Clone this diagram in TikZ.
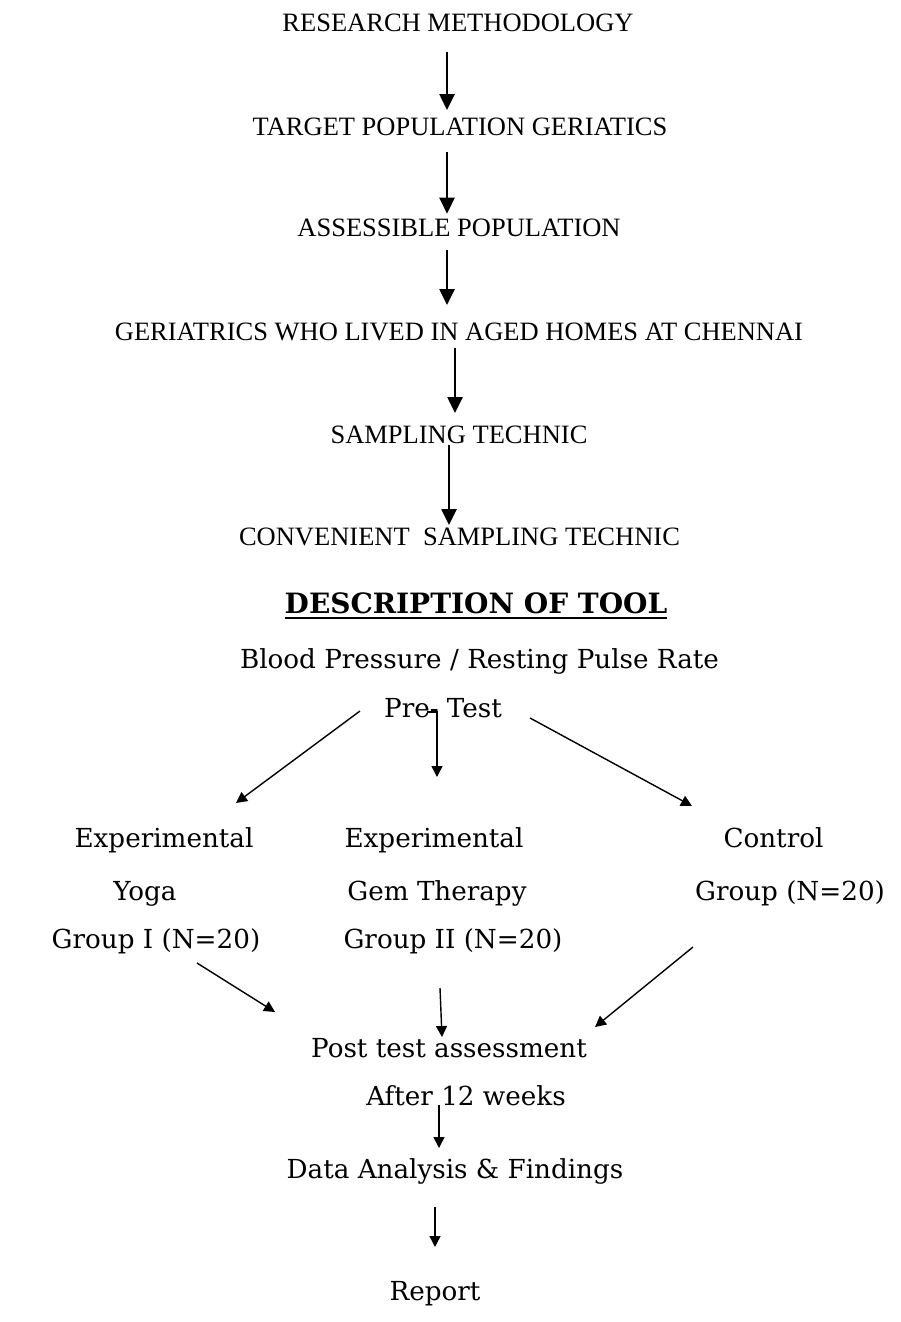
\documentclass[tikz,border=0pt]{standalone}
\usepackage{fontspec}
\setmainfont{Liberation Serif}
\newfontfamily\schfont{DejaVu Serif}
\usetikzlibrary{calc,arrows.meta}
\tikzset{
  % --- TEXT ---
  step-text/.style={
    font=\fontsize{26.5}{30}\selectfont,
    inner sep=0pt,
    anchor=base
  },
  tool-title/.style={
    font=\schfont\bfseries\fontsize{28}{31}\selectfont,
    inner sep=0pt,
    anchor=base
  },
  tool-text/.style={
    font=\schfont\fontsize{26.2}{29}\selectfont,
    inner sep=0pt,
    anchor=base
  },
  % --- ARROWS ---
  arrw/.style={
    line width=2.6pt,
    -{Triangle[width=15pt,length=16pt]}
  },
  thin-arrw/.style={
    line width=1.4pt,
    -{Triangle[width=11pt,length=11pt]}
  },
  uline/.style={line width=2.4pt},
}

\begin{document}
\begin{tikzpicture}[x=1pt,y=-1pt]
  \useasboundingbox (0,0) rectangle (901,1322);
  % --- method chain
  \node[step-text] (rm)   at (458,32)    {RESEARCH METHODOLOGY};
  \node[step-text] (tp)   at (460,135)   {TARGET POPULATION GERIATICS};
  \node[step-text] (asp)  at (459,236.7) {ASSESSIBLE POPULATION};
  \node[step-text] (ger)  at (459,340)   {GERIATRICS WHO LIVED IN AGED HOMES AT CHENNAI};
  \node[step-text] (samp) at (459,443)   {SAMPLING TECHNIC};
  \node[step-text] (conv) at (459.5,545) {CONVENIENT\ \ SAMPLING TECHNIC};
  \draw[arrw] ($(rm.base)+(-11,20)$)   -- ($(tp.base)+(-13,-25)$);
  \draw[arrw] ($(tp.base)+(-13,17)$)   -- ($(asp.base)+(-12,-23)$);
  \draw[arrw] ($(asp.base)+(-12,13)$)  -- ($(ger.base)+(-12,-35)$);
  \draw[arrw] ($(ger.base)+(-4,8)$)    -- ($(samp.base)+(-4,-30)$);
  \draw[arrw] ($(samp.base)+(-10,2)$)  -- ($(conv.base)+(-10.5,-20)$);
  % --- tool description
  \node[tool-title] (desc) at (476,613) {DESCRIPTION OF TOOL};
  \draw[uline] ([yshift=-5pt]desc.base west) -- ([yshift=-5pt]desc.base east);
  \node[tool-text] (bp)  at (479.5,668) {Blood Pressure / Resting Pulse Rate};
  \node[tool-text] (pre) at (443,717)   {Pre- Test};
  % --- groups
  \node[tool-text] (expL)    at (164,847)   {Experimental};
  \node[tool-text] (yoga)    at (145,900)   {Yoga};
  \node[tool-text] (grpI)    at (156,948)   {Group I (N=20)};
  \node[tool-text] (expM)    at (434,847)   {Experimental};
  \node[tool-text] (gem)     at (437,900)   {Gem Therapy};
  \node[tool-text] (grpII)   at (453,948)   {Group II (N=20)};
  \node[tool-text] (ctrl)    at (773.5,847) {Control};
  \node[tool-text] (ctrlgrp) at (790,900)   {Group (N=20)};
  \draw[thin-arrw] ($(pre.base)+(-83,-6)$) -- ($(expL.base)+(72,-44)$);
  \draw[thin-arrw] ($(pre.base)+(-16,-5)$) -| ($(expM.base)+(3,-70)$);
  \draw[thin-arrw] ($(pre.base)+(87,1)$)   -- ($(ctrl.base)+(-81.5,-41)$);
  % --- after test
  \node[tool-text] (post)  at (449,1057) {Post test assessment};
  \node[tool-text] (after) at (466,1105) {After 12 weeks};
  \node[tool-text] (data)  at (455,1178) {Data Analysis \& Findings};
  \node[tool-text] (rep)   at (435,1300) {Report};
  \draw[thin-arrw] ($(grpI.base)+(41,15)$)      -- ($(post.base)+(-174,-45)$);
  \draw[thin-arrw] ($(grpII.base)+(-13,40)$)    -- ($(post.base)+(-7,-20)$);
  \draw[thin-arrw] ($(ctrlgrp.base)+(-97,47)$)  -- ($(post.base)+(146,-30)$);
  \draw[thin-arrw] ($(after.base)+(-27,0)$)     -- ($(data.base)+(-16,-30)$);
  \draw[thin-arrw] ($(data.base)+(-20,29)$)     -- ($(rep.base)+(0,-53)$);
\end{tikzpicture}
\end{document}
